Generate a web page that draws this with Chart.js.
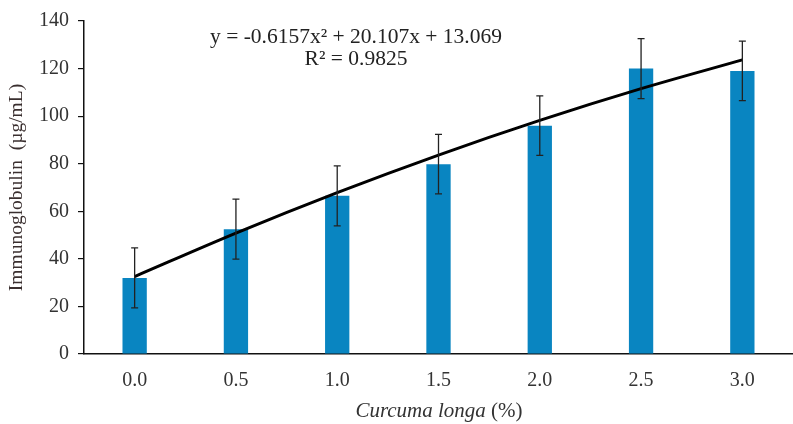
<!DOCTYPE html>
<html>
<head>
<meta charset="utf-8">
<script src="https://cdn.jsdelivr.net/npm/chart.js@4/dist/chart.umd.min.js"></script>
<style>
  html, body { margin: 0; padding: 0; background: #fff; }
  #wrap { width: 793px; height: 424px; position: relative; }
</style>
</head>
<body>
<div id="wrap"><canvas id="c" width="793" height="424"></canvas></div>
<script>
// Curcuma longa dose (%) and mean immunoglobulin level with SD
const doses = ['0.0', '0.5', '1.0', '1.5', '2.0', '2.5', '3.0'];
const igMeans = [32, 52.5, 66.5, 79.8, 96, 120, 119];
const igErrors = [12.6, 12.6, 12.6, 12.5, 12.5, 12.6, 12.5];
const yTicks = [0, 20, 40, 60, 80, 100, 120, 140];

// Quadratic trendline coefficients (x = 1..7 category index): a x^2 + b x + c
const trendCoef = [-0.6157, 20.107, 13.069];
const trendLabel = 'y = -0.6157x\u00B2 + 20.107x + 13.069';
const r2Label = 'R\u00B2 = 0.9825';
const trendValues = doses.map((_, i) => {
  const x = i + 1;
  return trendCoef[0] * x * x + trendCoef[1] * x + trendCoef[2];
});

const serif = '"Liberation Serif", "Times New Roman", serif';

const errorBars = {
  id: 'errorBars',
  afterDatasetsDraw(chart) {
    const meta = chart.getDatasetMeta(1);
    const y = chart.scales.y;
    const ctx = chart.ctx;
    ctx.save();
    ctx.strokeStyle = '#222';
    ctx.lineWidth = 1.3;
    meta.data.forEach((bar, i) => {
      const x = bar.x;
      const top = y.getPixelForValue(igMeans[i] + igErrors[i]);
      const bot = y.getPixelForValue(igMeans[i] - igErrors[i]);
      ctx.beginPath();
      ctx.moveTo(x, top); ctx.lineTo(x, bot);
      ctx.moveTo(x - 3.5, top); ctx.lineTo(x + 3.5, top);
      ctx.moveTo(x - 3.5, bot); ctx.lineTo(x + 3.5, bot);
      ctx.stroke();
    });
    ctx.restore();
  }
};

const annotations = {
  id: 'annotations',
  afterDraw(chart) {
    const ctx = chart.ctx;
    const area = chart.chartArea;
    ctx.save();
    ctx.fillStyle = '#222';
    ctx.textAlign = 'center';
    ctx.textBaseline = 'middle';
    ctx.font = '21.5px ' + serif;
    ctx.fillText(trendLabel, 356, 37);
    ctx.fillText(r2Label, 356, 59);

    // x-axis title: italic species name followed by the unit
    const part1 = 'Curcuma longa ';
    const part2 = '(%)';
    const fs = '21px ';
    ctx.font = 'italic ' + fs + serif;
    const w1 = ctx.measureText(part1).width;
    ctx.font = fs + serif;
    const w2 = ctx.measureText(part2).width;
    const cx = 439;
    let x0 = cx - (w1 + w2) / 2;
    ctx.textAlign = 'left';
    ctx.fillStyle = '#333';
    ctx.font = 'italic ' + fs + serif;
    ctx.fillText(part1, x0, 411);
    ctx.font = fs + serif;
    ctx.fillText(part2, x0 + w1, 411);
    ctx.restore();
  }
};

new Chart(document.getElementById('c'), {
  data: {
    labels: doses,
    datasets: [
      {
        type: 'line',
        label: 'Trend',
        data: trendValues,
        borderColor: '#000',
        borderWidth: 3,
        pointRadius: 0,
        tension: 0.4,
        cubicInterpolationMode: 'monotone',
        fill: false,
        order: 0
      },
      {
        type: 'bar',
        label: 'Immunoglobulin',
        data: igMeans,
        backgroundColor: '#0985c1',
        borderWidth: 0,
        barPercentage: 0.24,
        categoryPercentage: 1.0,
        order: 1
      }
    ]
  },
  options: {
    responsive: false,
    animation: false,
    layout: { padding: { top: 18, right: 0, left: 0, bottom: 0 } },
    plugins: { legend: { display: false }, tooltip: { enabled: false } },
    scales: {
      x: {
        offset: true,
        grid: { display: false, drawTicks: false },
        border: { display: true, color: '#111', width: 1.5 },
        ticks: { color: '#333', font: { family: serif, size: 20 }, padding: 15 },
        afterFit(s) { s.height = 70; }
      },
      y: {
        min: 0, max: 140,
        afterBuildTicks(s) { s.ticks = yTicks.map(v => ({ value: v })); },
        grid: { display: true, drawOnChartArea: false, tickLength: 6, color: '#111', lineWidth: 1.2 },
        border: { display: true, color: '#111', width: 1.5 },
        ticks: { color: '#333', font: { family: serif, size: 20 }, padding: 9 },
        title: {
          display: true,
          text: 'Immunoglobulin  (\u00B5g/mL)',
          color: '#3a2f2f',
          font: { family: serif, size: 19.5 },
          padding: { top: 5, bottom: 0 }
        },
        afterFit(s) { s.width = 84; }
      }
    }
  },
  plugins: [errorBars, annotations]
});
</script>
</body>
</html>
